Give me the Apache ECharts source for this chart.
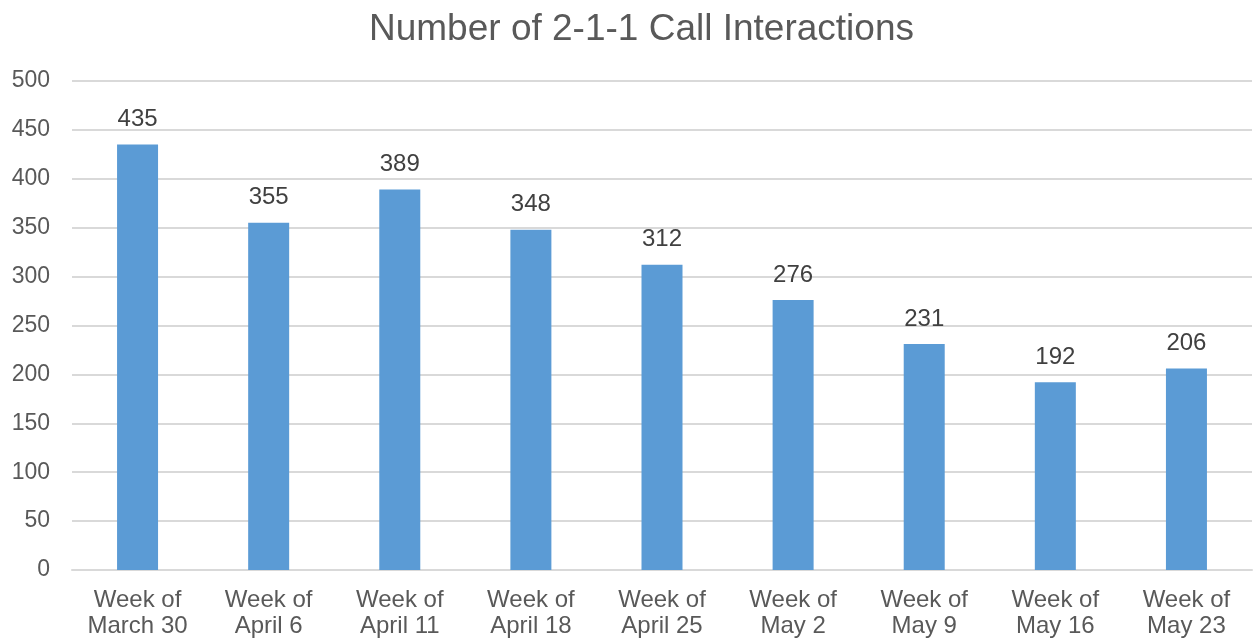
<!DOCTYPE html>
<html>
<head>
<meta charset="utf-8">
<script src="https://cdn.jsdelivr.net/npm/echarts@6/dist/echarts.min.js"></script>
<style>
  html, body { margin: 0; padding: 0; background: #fff; }
  #chart { width: 1253px; height: 641px; }
</style>
</head>
<body>
<div id="chart"></div>
<script>
// Weekly 2-1-1 call interaction counts
const categories = [
  'Week of\nMarch 30', 'Week of\nApril 6', 'Week of\nApril 11', 'Week of\nApril 18',
  'Week of\nApril 25', 'Week of\nMay 2', 'Week of\nMay 9', 'Week of\nMay 16', 'Week of\nMay 23'
];
const interactions = [435, 355, 389, 348, 312, 276, 231, 192, 206];
const yTicks = { min: 0, max: 500, interval: 50 };

const font = '"Liberation Sans", Arial, sans-serif';
const chart = echarts.init(document.getElementById('chart'), null, { renderer: 'canvas' });
chart.setOption({
  animation: false,
  backgroundColor: '#ffffff',
  title: {
    text: 'Number of 2-1-1 Call Interactions',
    left: 364,
    top: 6,
    textStyle: { fontFamily: font, fontSize: 37, fontWeight: 'normal', color: '#595959' }
  },
  grid: { left: 72, right: 1, top: 81, bottom: 71, containLabel: false },
  xAxis: {
    type: 'category',
    data: categories,
    axisTick: { show: false },
    axisLine: { lineStyle: { color: '#d9d9d9', width: 2 } },
    axisLabel: {
      fontFamily: font, fontSize: 24, color: '#595959', lineHeight: 26, margin: 17, interval: 0
    }
  },
  yAxis: {
    type: 'value',
    min: yTicks.min, max: yTicks.max, interval: yTicks.interval,
    axisLine: { show: false },
    axisTick: { show: false },
    splitLine: { lineStyle: { color: '#d9d9d9', width: 2 } },
    axisLabel: { fontFamily: font, fontSize: 23, color: '#595959', margin: 22 }
  },
  series: [{
    type: 'bar',
    data: interactions,
    barWidth: 41,
    itemStyle: { color: '#5b9bd5' },
    label: {
      show: true, position: 'top', distance: 13,
      fontFamily: font, fontSize: 24, color: '#404040'
    }
  }]
});
</script>
</body>
</html>
